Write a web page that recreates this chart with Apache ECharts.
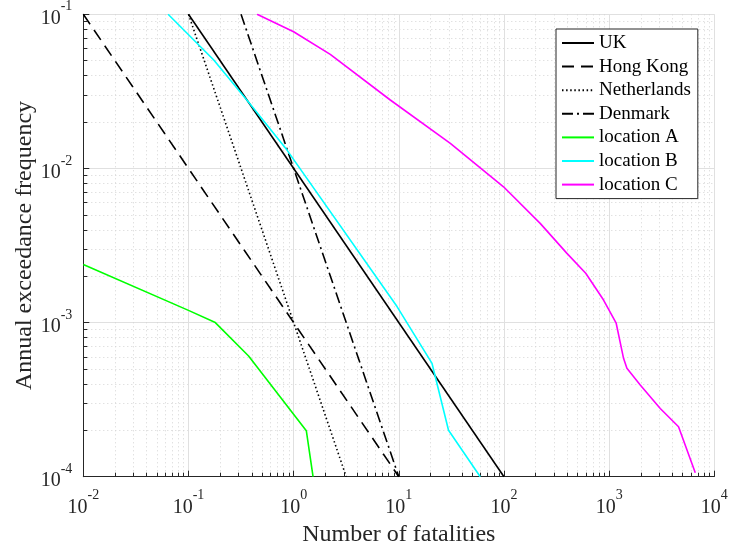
<!DOCTYPE html>
<html>
<head>
<meta charset="utf-8">
<script src="https://cdn.jsdelivr.net/npm/echarts@6/dist/echarts.min.js"></script>
<style>html,body{margin:0;padding:0;background:#fff}#c{width:730px;height:546px}</style>
</head>
<body>
<div id="c"></div>
<script>
// ---- data ----
const ukX = [0.1, 100];
const ukY = [0.1, 1e-4];
const hongKongX = [0.01, 10];
const hongKongY = [0.1, 1e-4];
const netherlandsX = [0.1, 3.162];
const netherlandsY = [0.1, 1e-4];
const denmarkX = [0.3162, 10];
const denmarkY = [0.1, 1e-4];
const locAX = [0.01, 0.1, 0.18, 0.373, 1.32, 1.53];
const locAY = [0.00238, 0.0012, 0.001, 0.000607, 0.000199, 0.0001];
const locBX = [0.064, 0.174, 0.382, 0.865, 9.62, 20.7, 29.7, 59.5];
const locBY = [0.1, 0.0505, 0.0264, 0.01315, 0.00127, 0.000543, 0.0002, 0.0001];
const locCX = [0.449, 1.0, 2.23, 8.3, 30.9, 99, 221, 397, 599, 885, 1167, 1371, 1476, 1976, 3062, 4571, 6592];
const locCY = [0.1, 0.0771, 0.055, 0.0278, 0.01456, 0.0076, 0.0044, 0.00281, 0.00209, 0.0014, 0.00099, 0.000586, 0.000505, 0.000393, 0.000277, 0.000211, 0.000106];

const seriesNames = ['UK', 'Hong Kong', 'Netherlands', 'Denmark', 'location A', 'location B', 'location C'];
const xExponents = [-2, -1, 0, 1, 2, 3, 4];
const yExponents = [-4, -3, -2, -1];
const xMinorValues = [];
for (let i = 0; i < xExponents.length - 1; i++) for (let m = 2; m <= 9; m++) xMinorValues.push(m * Math.pow(10, xExponents[i]));
const yMinorValues = [];
for (let i = 0; i < yExponents.length - 1; i++) for (let m = 2; m <= 9; m++) yMinorValues.push(m * Math.pow(10, yExponents[i]));

const FONT = '"Liberation Serif", "Times New Roman", serif';
const AX = '#262626';

function pairs(xs, ys) { return xs.map((x, i) => [x, ys[i]]); }
function expLabel(v) {
  const e = Math.round(Math.log10(v));
  return '{b|10}{s|' + e + '}';
}
const richLab = {
  b: { fontSize: 20, fontFamily: FONT, color: AX, padding: [9, 0, 0, 0], verticalAlign: 'bottom' },
  s: { fontSize: 14, fontFamily: FONT, color: AX, verticalAlign: 'top' }
};

const styles = [
  { color: '#000', type: 'solid' },
  { color: '#000', type: [12, 7] },
  { color: '#000', type: [1.5, 2.6] },
  { color: '#000', type: [11, 4, 2, 4] },
  { color: '#00ff00', type: 'solid' },
  { color: '#00ffff', type: 'solid' },
  { color: '#ff00ff', type: 'solid' }
];
const dataSets = [
  pairs(ukX, ukY), pairs(hongKongX, hongKongY), pairs(netherlandsX, netherlandsY),
  pairs(denmarkX, denmarkY), pairs(locAX, locAY), pairs(locBX, locBY), pairs(locCX, locCY)
];

const chart = echarts.init(document.getElementById('c'), null, { renderer: 'canvas' });
chart.setOption({
  animation: false,
  backgroundColor: '#fff',
  grid: { left: 83.3, right: 15.7, top: 14.3, bottom: 69.3, containLabel: false, outerBoundsMode: 'none' },
  legend: {
    orient: 'vertical', left: 556, top: 29,
    data: seriesNames,
    backgroundColor: '#fff', borderColor: AX, borderWidth: 1,
    padding: [4.5, 7, 4.5, 5],
    itemWidth: 32, itemHeight: 14, itemGap: 4.6,
    itemStyle: { color: 'rgba(0,0,0,0)', borderColor: 'rgba(0,0,0,0)', borderWidth: 0 },
    textStyle: { fontFamily: FONT, fontSize: 19, color: '#000' }
  },
  xAxis: [{
    type: 'log', logBase: 10, min: 0.01, max: 10000, splitNumber: 6,
    position: 'bottom',
    name: 'Number of fatalities', nameLocation: 'middle', nameGap: 46, nameMoveOverlap: false,
    nameTextStyle: { fontFamily: FONT, fontSize: 24, color: AX },
    axisLine: { show: true, lineStyle: { color: AX, width: 1 } },
    axisTick: { show: true, inside: true, length: 6, lineStyle: { color: AX } },
    axisLabel: { formatter: expLabel, rich: richLab, margin: 12, showMinLabel: true, showMaxLabel: true },
    splitLine: { show: true, lineStyle: { color: '#e0e0e0', width: 1 } }
  }, {
    type: 'log', logBase: 10, min: 0.01, max: 10000, position: 'bottom',
    axisLine: { show: false },
    axisTick: { show: true, inside: true, length: 4, customValues: xMinorValues, lineStyle: { color: AX } },
    axisLabel: { show: false },
    splitLine: { show: true, lineStyle: { color: '#d4d4d4', width: 1, type: [1, 3] } }
  }],
  yAxis: [{
    type: 'log', logBase: 10, min: 1e-4, max: 0.1, splitNumber: 3,
    position: 'left',
    name: 'Annual exceedance frequency', nameLocation: 'middle', nameGap: 47, nameMoveOverlap: false,
    nameTextStyle: { fontFamily: FONT, fontSize: 24, color: AX },
    axisLine: { show: true, lineStyle: { color: AX, width: 1 } },
    axisTick: { show: true, inside: true, length: 6, lineStyle: { color: AX } },
    axisLabel: { formatter: expLabel, rich: richLab, margin: 11, showMinLabel: true, showMaxLabel: true },
    splitLine: { show: true, lineStyle: { color: '#e0e0e0', width: 1 } }
  }, {
    type: 'log', logBase: 10, min: 1e-4, max: 0.1, position: 'left',
    axisLine: { show: false },
    axisTick: { show: true, inside: true, length: 4, customValues: yMinorValues, lineStyle: { color: AX } },
    axisLabel: { show: false },
    splitLine: { show: true, lineStyle: { color: '#d4d4d4', width: 1, type: [1, 3] } }
  }],
  series: seriesNames.map((n, i) => ({
    name: n, type: 'line', xAxisIndex: 0, yAxisIndex: 0,
    data: dataSets[i], showSymbol: false, symbol: 'none', clip: true,
    color: styles[i].color,
    lineStyle: { color: styles[i].color, width: 1.6, type: styles[i].type },
    z: 5
  }))
});
</script>
</body>
</html>
